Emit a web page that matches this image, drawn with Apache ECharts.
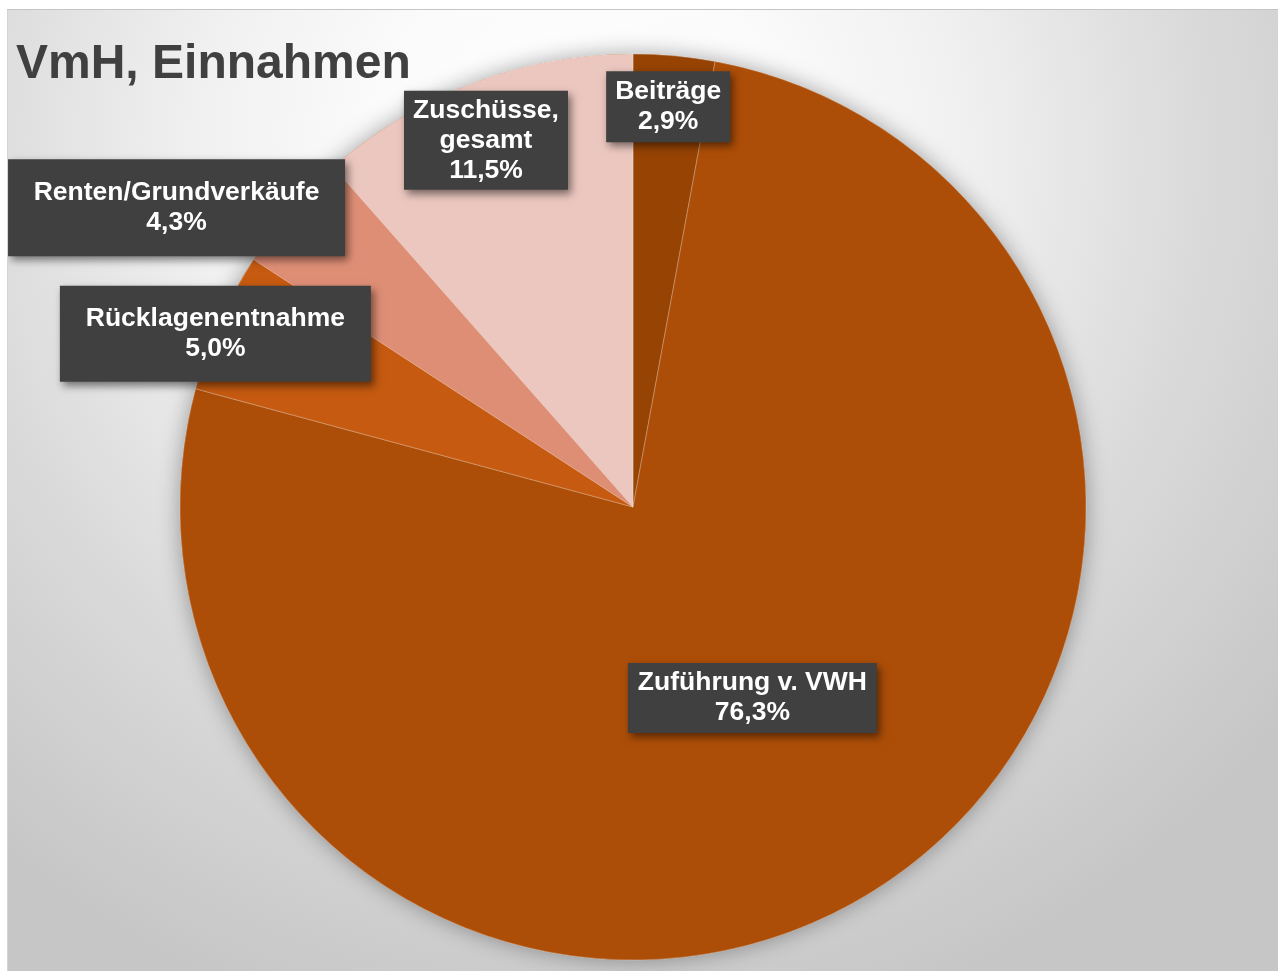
<!DOCTYPE html>
<html>
<head>
<meta charset="utf-8">
<script src="https://cdn.jsdelivr.net/npm/echarts@6/dist/echarts.min.js"></script>
<style>
  html, body { margin: 0; padding: 0; background: #fff; }
  #chart {
    position: absolute; left: 7px; top: 9px;
    width: 1270px; height: 961px;
    border-top: 1px solid #c4c4c4; border-left: 1px solid #d4d4d4;
  }
</style>
</head>
<body>
<div id="chart"></div>
<script>
// Kategorien und Anteile (Prozent)
var categories = ['Beiträge', 'Zuführung v. VWH', 'Rücklagenentnahme', 'Renten/Grundverkäufe', 'Zuschüsse, gesamt'];
var shares = [2.9, 76.3, 5.0, 4.3, 11.5];

// Farben der Segmente
var sliceColors = ['#964304', '#ad4e08', '#c55a10', '#df8e76', '#ebc7bf'];

// Beschriftungs-Kästen: Breite, Innenabstand, Lage (Radiusfaktor, Winkelversatz)
var labelBoxW = [124, 249, 311, 337, 164];
var labelPadV = [5.5, 5, 18, 18.5, 4.5];
var labelRadius = [0.887, 0.497, 0.998, 1.205, 0.872];
var labelShift = [-0.2, 0.2, -1.6, -7.6, -1.15];

var CX = 625, CY = 497, R = 453;

var total = shares.reduce(function (a, b) { return a + b; }, 0);

var myChart = echarts.init(document.getElementById('chart'));

myChart.setOption({
  animation: false,
  backgroundColor: {
    type: 'radial', x: 0.45, y: 0.15, r: 0.94,
    colorStops: [
      { offset: 0, color: '#ffffff' },
      { offset: 0.22, color: '#fbfbfb' },
      { offset: 0.43, color: '#f0f0f0' },
      { offset: 0.69, color: '#dadada' },
      { offset: 1, color: '#c6c6c6' }
    ]
  },
  title: {
    text: 'VmH, Einnahmen',
    left: 8,
    top: 31,
    padding: 0,
    textStyle: {
      fontFamily: 'Liberation Sans, Arial, sans-serif',
      fontSize: 48,
      fontWeight: 'bold',
      color: '#404040'
    }
  },
  series: [
    // Schatten hinter dem Kreis
    {
      type: 'pie',
      silent: true,
      center: [CX, CY],
      radius: R,
      label: { show: false },
      labelLine: { show: false },
      itemStyle: {
        color: '#ad4e08',
        shadowBlur: 22,
        shadowColor: 'rgba(0, 0, 0, 0.35)'
      },
      data: [{ value: 1, name: '' }]
    },
    {
      type: 'pie',
      center: [CX, CY],
      radius: R,
      startAngle: 90,
      clockwise: true,
      emphasis: { disabled: true },
      itemStyle: {
        borderColor: 'rgba(255, 255, 255, 0.35)',
        borderWidth: 0.8
      },
      labelLine: { show: false },
      label: {
        show: true,
        position: 'inside',
        formatter: function (p) {
          // Komma-Namen wie im Original umbrechen
          return p.name.replace(', ', ',\n') + '\n' + p.percent.toFixed(1).replace('.', ',') + '%';
        },
        color: '#ffffff',
        fontFamily: 'Liberation Sans, Arial, sans-serif',
        fontWeight: 'bold',
        fontSize: 26.5,
        lineHeight: 30,
        align: 'center',
        overflow: 'none',
        backgroundColor: '#404040',
        shadowColor: 'rgba(0, 0, 0, 0.5)',
        shadowBlur: 8,
        shadowOffsetX: 3,
        shadowOffsetY: 4
      },
      labelLayout: function (p) {
        var i = p.dataIndex;
        var before = 0;
        for (var k = 0; k < i; k++) before += shares[k];
        var mid = (before + shares[i] / 2) / total * 360 + labelShift[i];
        var a = mid * Math.PI / 180;
        var rr = R * labelRadius[i];
        return {
          x: CX + rr * Math.sin(a),
          y: CY - rr * Math.cos(a),
          align: 'center',
          verticalAlign: 'middle'
        };
      },
      data: categories.map(function (name, i) {
        return {
          name: name,
          value: shares[i],
          itemStyle: { color: sliceColors[i] },
          label: {
            width: labelBoxW[i],
            padding: [labelPadV[i], 0]
          }
        };
      })
    }
  ]
});
</script>
</body>
</html>
